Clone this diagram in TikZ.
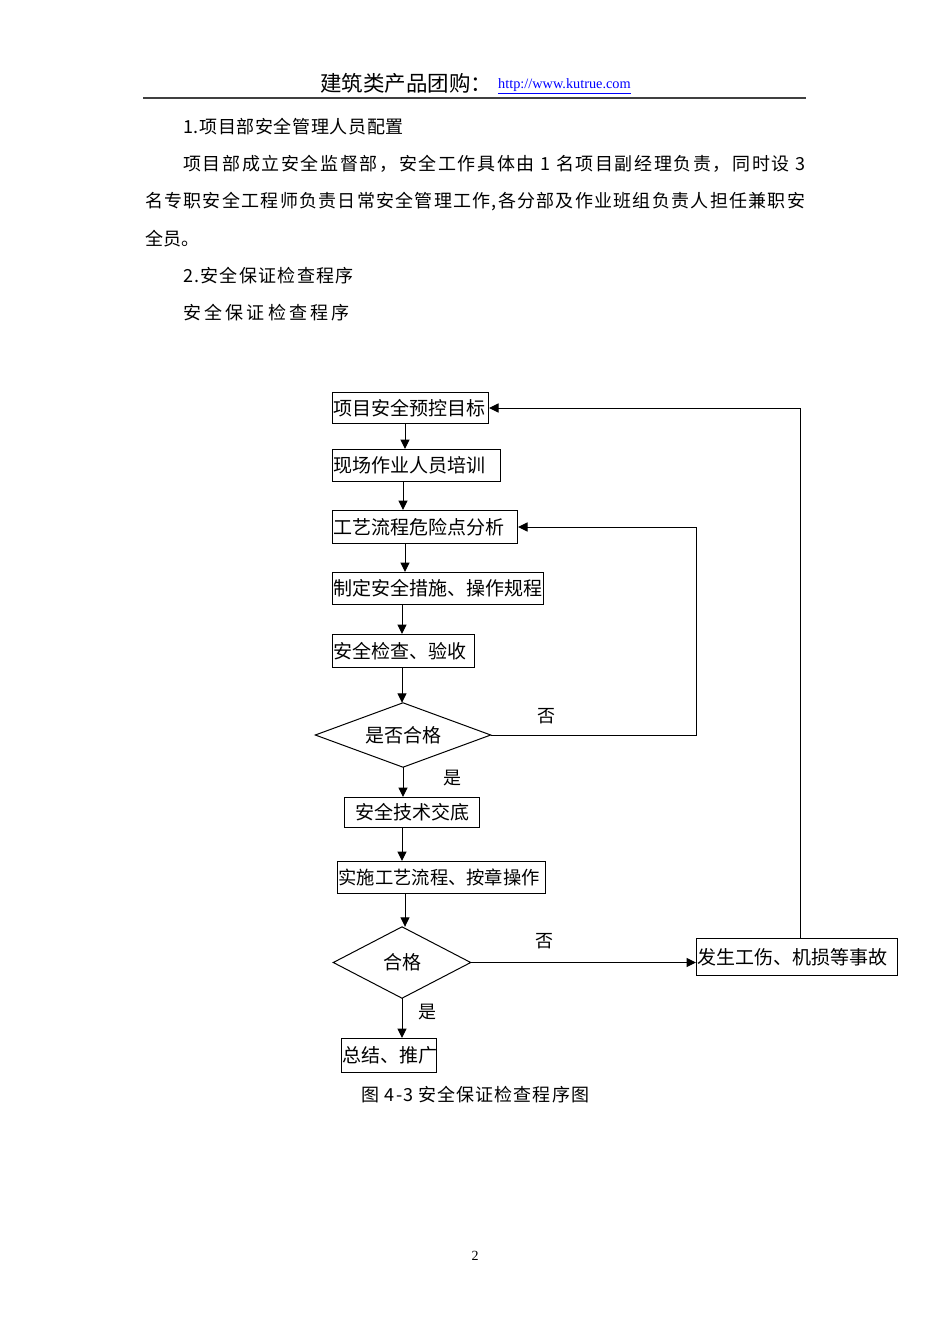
\documentclass[tikz,border=0pt]{standalone}
\usepackage{fontspec}
\setmainfont{Liberation Serif}
\newfontfamily\cjk{Noto Sans CJK SC}
\newcommand{\lsp}[1]{\addfontfeatures{LetterSpace=#1}}
\usetikzlibrary{arrows.meta}
\begin{document}
\begin{tikzpicture}[x=1pt,y=-1pt,
  box/.style={draw,line width=1pt,anchor=north west,inner xsep=1pt,inner ysep=0pt,
    font=\cjk\fontsize{19}{19}\selectfont,align=left},
  dia/.style={inner sep=0pt,font=\cjk\fontsize{19}{19}\selectfont},
  arr/.style={-{Triangle[length=9.5pt,width=9pt]},line width=1pt},
  ln/.style={line width=1pt},
  lbl/.style={inner sep=0pt,font=\cjk\fontsize{18}{18}\selectfont},
  body/.style={anchor=west,inner sep=0pt,font=\cjk\fontsize{18}{18}\selectfont}]
\useasboundingbox[fill=white] (0,0) rectangle (950,1344);

% header
\node[anchor=west,inner sep=0pt,font=\cjk\fontsize{21.5}{21.5}\selectfont] (hd) at (320,83) {建筑类产品团购：};
\node[anchor=west,inner sep=0pt,font=\fontsize{14.3}{14.3}\selectfont,text=blue] (url) at (498,86) {\underline{http://www.kutrue.com}};
\draw[line width=1.6pt,black!75] (143,98) -- (806,98);

% body text
\node[body] (t1) at (183,127) {\lsp{3.5}1.项目部安全管理人员配置};
\node[body] (t2) at (183,164) {\lsp{9}项目部成立安全监督部，安全工作具体由 1 名项目副经理负责，同时设 3};
\node[body] (t3) at (145,202) {\lsp{7}名专职安全工程师负责日常安全管理工作,各分部及作业班组负责人担任兼职安};
\node[body] (t4) at (145,239) {全员。};
\node[body] (t5) at (183,276) {\lsp{7}2.安全保证检查程序};
\node[body] (t6) at (183,313) {\lsp{18}安全保证检查程序};

% flowchart boxes
\node[box,minimum width=156,minimum height=31,text width=154] (b1) at (332,392) {项目安全预控目标};
\node[box,minimum width=168,minimum height=32,text width=166] (b2) at (332,449) {现场作业人员培训};
\node[box,minimum width=185,minimum height=33,text width=183] (b3) at (332,510) {工艺流程危险点分析};
\node[box,minimum width=211,minimum height=32,text width=209] (b4) at (332,572) {制定安全措施、操作规程};
\node[box,minimum width=142,minimum height=33,text width=140] (b5) at (332,634) {安全检查、验收};
\node[dia,minimum width=175,minimum height=64] (d1) at (403,735) {是否合格};
\draw[ln] (d1.west) -- (d1.north) -- (d1.east) -- (d1.south) -- cycle;
\node[box,minimum width=135,minimum height=30,text width=133,align=center] (b6) at (344,797) {安全技术交底};
\node[box,minimum width=208,minimum height=32,text width=206,font=\cjk\fontsize{18.3}{18.3}\selectfont] (b7) at (337,861) {实施工艺流程、按章操作};
\node[dia,minimum width=137,minimum height=71] (d2) at (402,962.5) {合格};
\draw[ln] (d2.west) -- (d2.north) -- (d2.east) -- (d2.south) -- cycle;
\node[box,minimum width=95,minimum height=34,text width=93,align=center] (b8) at (341,1038) {总结、推广};
\node[box,minimum width=201,minimum height=37,text width=199] (b9) at (696,938) {发生工伤、机损等事故};

% connectors
\draw[arr] (405,0 |- b1.south) -- (405,0 |- b2.north);
\draw[arr] (403,0 |- b2.south) -- (403,0 |- b3.north);
\draw[arr] (405,0 |- b3.south) -- (405,0 |- b4.north);
\draw[arr] (402,0 |- b4.south) -- (402,0 |- b5.north);
\draw[arr] (402,0 |- b5.south) -- (402,0 |- d1.north);
\draw[arr] (d1.south) -- (d1.south |- b6.north);
\draw[arr] (402,0 |- b6.south) -- (402,0 |- b7.north);
\draw[arr] (405,0 |- b7.south) -- (405,0 |- d2.north);
\draw[arr] (d2.south) -- (d2.south |- b8.north);
\draw[arr] (d1.east) -- (696,0 |- d1.east) -- (696,0 |- b3.east) -- (b3.east);
\draw[arr] (d2.east) -- (d2.east -| b9.west);
\draw[arr] (800,0 |- b9.north) -- (800,0 |- b1.east) -- (b1.east);

% labels
\node[lbl] (n1) at (546,716) {否};
\node[lbl] (y1) at (452,778) {是};
\node[lbl] (n2) at (544,941) {否};
\node[lbl] (y2) at (427,1012) {是};

% caption and page number
\node[lbl] (cap) at (475.5,1095) {\lsp{6}图 4-3 安全保证检查程序图};
\node[inner sep=0pt,font=\fontsize{14}{14}\selectfont] (pg) at (475,1256) {2};
\end{tikzpicture}
\end{document}
